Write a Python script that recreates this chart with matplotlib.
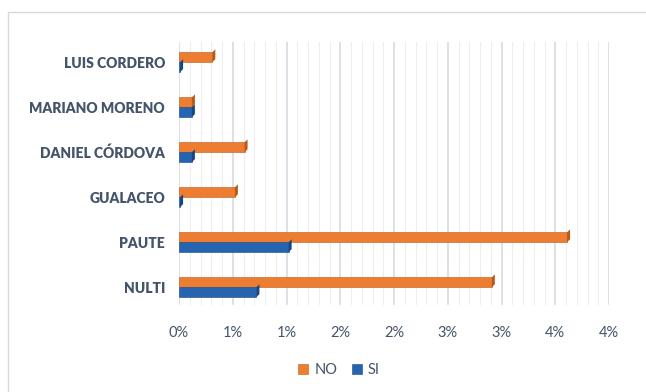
import matplotlib.pyplot as plt
from matplotlib.patches import Rectangle, Polygon
from matplotlib.transforms import offset_copy
import numpy as np

categories = ['NULTI', 'PAUTE', 'GUALACEO', 'DANIEL CÓRDOVA', 'MARIANO MORENO', 'LUIS CORDERO']
no_values = [2.91, 3.61, 0.52, 0.61, 0.12, 0.31]
si_values = [0.72, 1.02, 0.01, 0.12, 0.12, 0.01]
tick_values = [0, 0.5, 1.0, 1.5, 2.0, 2.5, 3.0, 3.5, 4.0]
tick_labels = ['0%', '1%', '1%', '2%', '2%', '3%', '3%', '4%', '4%']

text_color = '#44546a'
orange = '#ED7D31'
orange_dark = '#B85A1B'
blue = '#2464B0'
blue_dark = '#174682'

plt.rcParams['font.family'] = ['Lato', 'DejaVu Sans']

fig = plt.figure(figsize=(6.46, 3.92), dpi=100)
ax = fig.add_axes([179 / 646, 1 - 312 / 392, 430 / 646, 270 / 392])

# outer frame
fig.patches.append(Rectangle((8 / 646, -0.05), 1.1, 1 - 12 / 392 + 0.05,
                             transform=fig.transFigure, fill=False,
                             edgecolor='#d9d9d9', linewidth=1))

y = np.arange(len(categories))
h = 0.22

# grid lines (minor every 0.1, major every 0.5), stopping at the chart floor
for v in np.arange(0, 4.01, 0.1):
    major = abs(v * 2 - round(v * 2)) < 1e-6
    ax.axvline(v, ymin=0.03, ymax=1.0, color='#d6dbe3' if major else '#eeeeee',
               linewidth=1.2 if major else 0.8, zorder=0)

bars_no = ax.barh(y + h / 2, no_values, height=h, color=orange,
                  edgecolor=orange_dark, linewidth=0.4, zorder=3, label='NO')
bars_si = ax.barh(y - h / 2, si_values, height=h, color=blue,
                  edgecolor=blue_dark, linewidth=0.4, zorder=3, label='SI')

ax.set_xlim(0, 4.0)
ax.set_ylim(-0.55, 5.45)

# small depth shading on the bar ends (after limits are fixed)
depth = offset_copy(ax.transData, fig=fig, x=3, y=3, units='dots')
for bars, dark in ((bars_no, orange_dark), (bars_si, blue_dark)):
    for b in bars:
        x1 = b.get_x() + b.get_width()
        y0, y1 = b.get_y(), b.get_y() + b.get_height()
        pts_front = ax.transData.transform([(x1, y0), (x1, y1)])
        pts_back = depth.transform([(x1, y1), (x1, y0)])
        verts = np.vstack([pts_front, pts_back])
        ax.add_patch(Polygon(verts, closed=True, transform=None,
                             facecolor=dark, edgecolor='none', zorder=4))

ax.set_yticks(y)
ax.set_yticklabels(categories, fontsize=10, fontweight='heavy', color=text_color)
ax.set_xticks(tick_values)
ax.set_xticklabels(tick_labels, fontsize=10.5, color=text_color)
ax.tick_params(axis='both', length=0)
ax.tick_params(axis='x', pad=10)
ax.tick_params(axis='y', pad=10)
for s in ax.spines.values():
    s.set_visible(False)

leg = fig.legend(handles=[bars_no, bars_si], labels=['NO', 'SI'], loc='center',
                 bbox_to_anchor=(339 / 646, 1 - 370 / 392), ncol=2, frameon=False,
                 handlelength=0.7, handleheight=0.7, handletextpad=0.4,
                 columnspacing=1.0, fontsize=10.5)
for t in leg.get_texts():
    t.set_color(text_color)

fig.savefig('out.png', dpi=100)
